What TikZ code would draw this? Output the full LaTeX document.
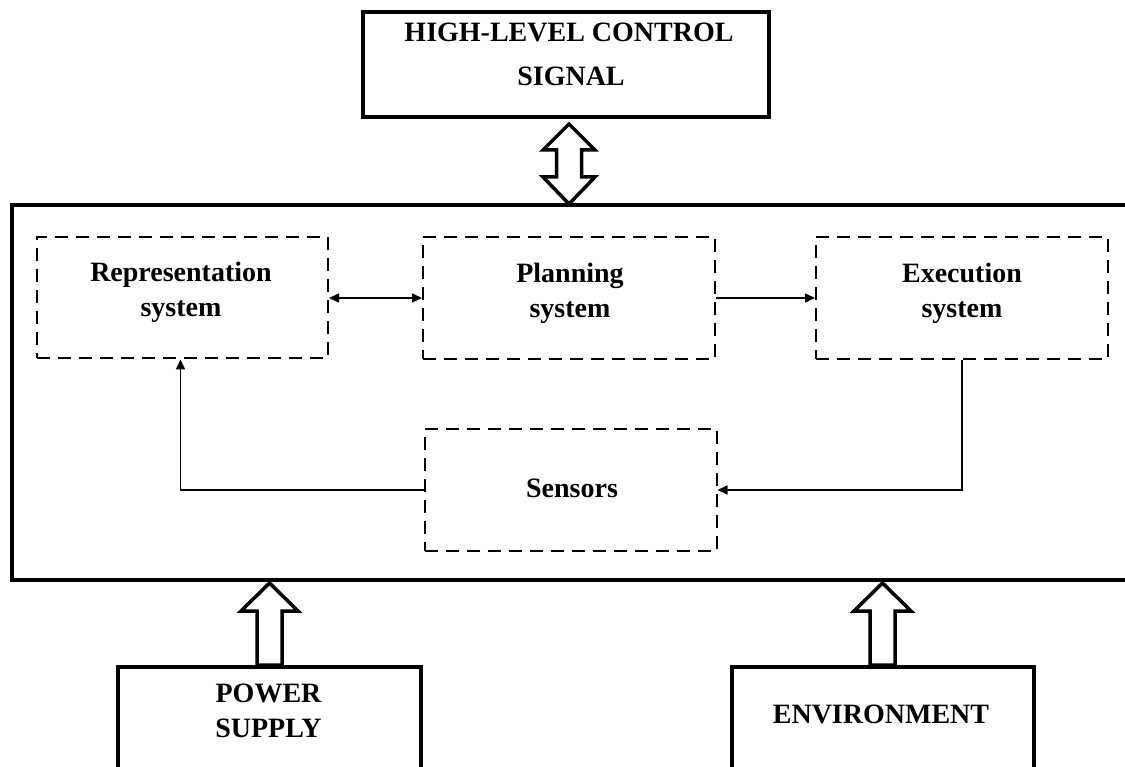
\documentclass[tikz,border=0pt]{standalone}
\usepackage{fontspec}
\setmainfont{Liberation Serif}
\usetikzlibrary{arrows.meta,calc}
\begin{document}
\begin{tikzpicture}[x=1pt,y=-1pt,
  solidbox/.style={draw, line width=4pt, rectangle, inner sep=0pt},
  dashbox/.style={draw, line width=2pt, dash pattern=on 13pt off 8pt, rectangle, inner sep=0pt},
  txt/.style={font=\fontsize{28}{35}\selectfont\bfseries, inner sep=0pt, anchor=base},
  conn/.style={line width=1.6pt},
  >={Triangle[length=10pt,width=9pt]},
  hollow/.style={draw, line width=3.5pt, fill=white, line join=miter}
]
\useasboundingbox (0,0) rectangle (1125,767);

% top box
\node[solidbox, minimum width=406pt, minimum height=105pt] (hl) at (566,64.5) {};
\node[txt] (hlA) at (569,42) {HIGH-LEVEL CONTROL};
\node[txt] (hlB) at (571,86) {SIGNAL};

% main box (right side runs off the picture)
\coordinate (mTR) at (1140,205);
\coordinate (mTL) at (12,205);
\coordinate (mBL) at (12,580);
\coordinate (mBR) at (1140,580);
\draw[line width=4pt, line join=miter] (mTR) -- (mTL) -- (mBL) -- (mBR);

% double hollow arrow between top box and main box
\coordinate (dtop) at ($(hl.south)+(3,5)$);
\draw[hollow] (dtop) -- ++(26,26) -- ++(-13.5,0) -- ++(0,27) -- ++(13.5,0)
  -- ++(-26,27) -- ++(-26,-27) -- ++(13.5,0) -- ++(0,-27) -- ++(-13.5,0) -- cycle;

% dashed inner boxes
\node[dashbox, minimum width=291pt, minimum height=121pt] (rep) at (182.5,298) {};
\node[dashbox, minimum width=292pt, minimum height=122pt] (plan) at (569,298) {};
\node[dashbox, minimum width=292pt, minimum height=122pt] (exec) at (962,298) {};
\node[dashbox, minimum width=292pt, minimum height=122pt] (sens) at (570.5,490) {};

\node[txt] (repA) at (181,282) {Representation};
\node[txt] (repB) at (181,317) {system};
\node[txt] (planA) at (570,283) {Planning};
\node[txt] (planB) at (570,318) {system};
\node[txt] (execA) at (962,283) {Execution};
\node[txt] (execB) at (962,318) {system};
\node[txt] (sensA) at (572,497) {Sensors};

% connectors
\draw[conn,<->] (rep.east) -- (plan.west);
\draw[conn,->] (plan.east) -- (exec.west);
\draw[conn,->] (exec.south) |- (sens.east);
\draw[conn,->] (sens.west) -| ($(rep.south)+(-2,0)$);

% bottom boxes (run off the picture)
\node[solidbox, minimum width=303pt, minimum height=140pt] (pw) at (269.5,737) {};
\node[txt] (pwA) at (268.5,702) {POWER};
\node[txt] (pwB) at (268.5,737) {SUPPLY};
\node[solidbox, minimum width=302pt, minimum height=140pt] (env) at (883,737) {};
\node[txt] (envA) at (881,723) {ENVIRONMENT};

% hollow arrows up
\draw[hollow] ($(pw.north)+(-12.5,0)$) -- ++(0,-54) -- ++(-16,0) -- ++(28.5,-28)
  -- ++(28.5,28) -- ++(-16,0) -- ++(0,54) -- cycle;
\draw[hollow] ($(env.north)+(-13,0)$) -- ++(0,-54) -- ++(-16,0) -- ++(28.5,-28)
  -- ++(28.5,28) -- ++(-16,0) -- ++(0,54) -- cycle;
\end{tikzpicture}
\end{document}
